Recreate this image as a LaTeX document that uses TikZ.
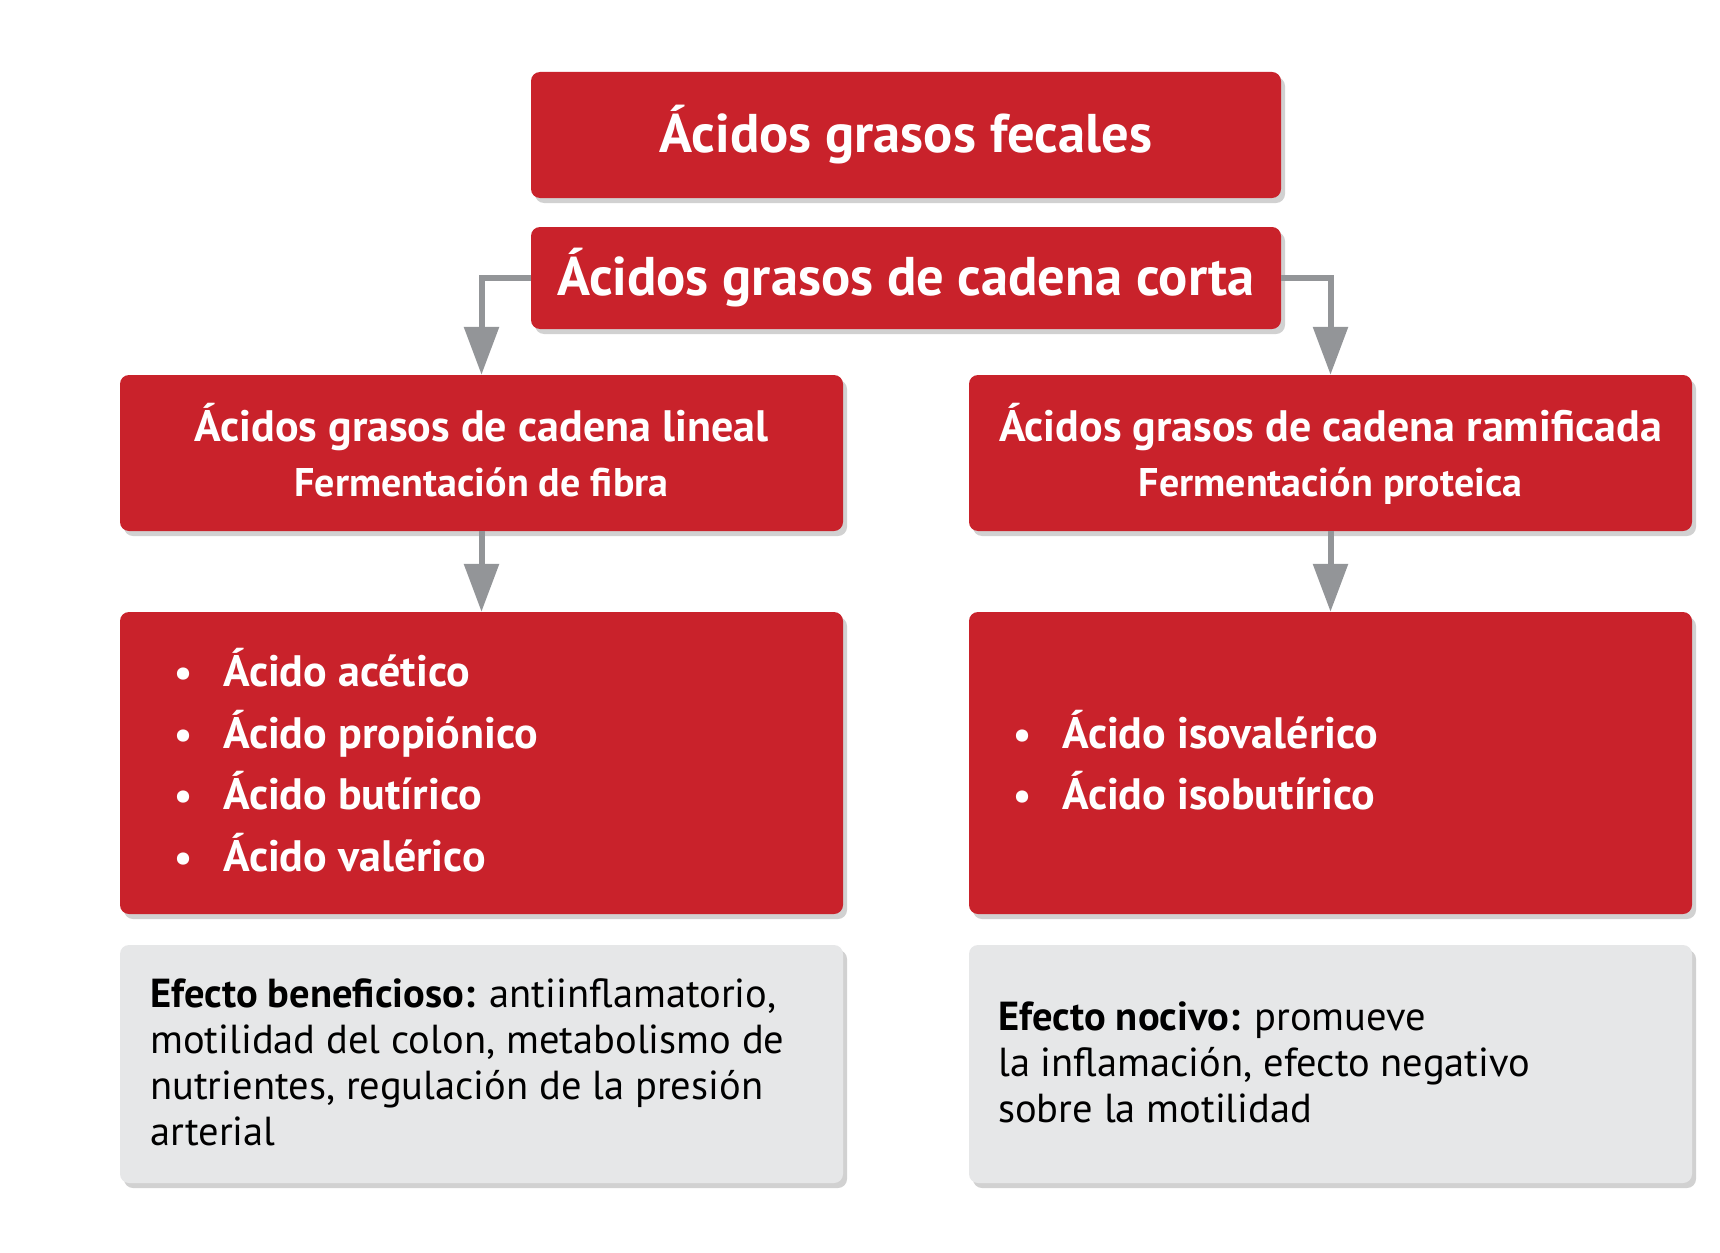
\documentclass[tikz,border=0pt]{standalone}
\usepackage{fontspec}
\setmainfont{PT Sans}
\usetikzlibrary{arrows.meta,shadows}
\definecolor{boxred}{HTML}{C9222B}
\definecolor{boxgray}{HTML}{E6E7E8}
\definecolor{arrowgray}{HTML}{939598}
\tikzset{
  card/.style={rectangle, rounded corners=9pt, inner sep=0pt,
    drop shadow={shadow xshift=4pt, shadow yshift=-5pt, fill=black, opacity=0.18}},
  redcard/.style={card, fill=boxred},
  graycard/.style={card, fill=boxgray},
  conn/.style={draw=arrowgray, line width=6pt, -{Triangle[width=34pt,length=48pt]}},
  titletxt/.style={text=white, font=\bfseries\fontsize{54.5}{60}\selectfont, inner sep=0pt},
  headtxt/.style={text=white, font=\bfseries\fontsize{44}{50}\selectfont, inner sep=0pt, anchor=base},
  subtxt/.style={text=white, font=\bfseries\fontsize{40}{46}\selectfont, inner sep=0pt, anchor=base},
  bultxt/.style={text=white, font=\bfseries\fontsize{44}{50}\selectfont, inner sep=0pt, anchor=base west},
  dot/.style={text=white, font=\bfseries\fontsize{40}{46}\selectfont, inner sep=0pt, anchor=base},
  bodytxt/.style={text=black, font=\fontsize{40.5}{46}\selectfont, inner sep=0pt, anchor=base west},
}
\begin{document}
\begin{tikzpicture}[x=1pt,y=-1pt]
\useasboundingbox (0,0) rectangle (1720,1252);
% boxes
\node[redcard, minimum width=750pt, minimum height=126pt] (fec) at (906,135) {};
\node[redcard, minimum width=750pt, minimum height=102pt] (corta) at (906,278) {};
\node[redcard, minimum width=723pt, minimum height=156pt] (lin) at (481.5,453) {};
\node[redcard, minimum width=723pt, minimum height=156pt] (ram) at (1330.5,453) {};
\node[redcard, minimum width=723pt, minimum height=302pt] (linlist) at (481.5,763) {};
\node[redcard, minimum width=723pt, minimum height=302pt] (ramlist) at (1330.5,763) {};
\node[graycard, minimum width=723pt, minimum height=238pt] (benef) at (481.5,1064) {};
\node[graycard, minimum width=723pt, minimum height=238pt] (nociv) at (1330.5,1064) {};
% connectors
\draw[conn] (corta.west) -| (lin.north);
\draw[conn] (corta.east) -| (ram.north);
\draw[conn] (lin.south) -- (linlist.north);
\draw[conn] (ram.south) -- (ramlist.north);
% texts
\node[titletxt] (t1) at (fec.center) {Ácidos grasos fecales};
\node[titletxt] (t2) at (corta.center) {Ácidos grasos de cadena corta};
\node[headtxt] (h1) at (481.5,441) {Ácidos grasos de cadena lineal};
\node[subtxt] (s1) at (481.5,496) {Fermentación de fibra};
\node[headtxt] (h2) at (1330.5,441) {Ácidos grasos de cadena ramificada};
\node[subtxt] (s2) at (1330.5,496) {Fermentación proteica};
% left list
\node[dot] (d1) at (184,686) {•};
\node[bultxt] (b1) at (223,686) {Ácido acético};
\node[dot] (d2) at (184,748) {•};
\node[bultxt] (b2) at (223,748) {Ácido propiónico};
\node[dot] (d3) at (184,809) {•};
\node[bultxt] (b3) at (223,809) {Ácido butírico};
\node[dot] (d4) at (184,871) {•};
\node[bultxt] (b4) at (223,871) {Ácido valérico};
% right list
\node[dot] (d5) at (1023,748) {•};
\node[bultxt] (b5) at (1062,748) {Ácido isovalérico};
\node[dot] (d6) at (1023,809) {•};
\node[bultxt] (b6) at (1062,809) {Ácido isobutírico};
% gray texts
\node[bodytxt] (g1) at (150,1007) {\textbf{Efecto beneficioso:} antiinflamatorio,};
\node[bodytxt] (g2) at (150,1053) {motilidad del colon, metabolismo de};
\node[bodytxt] (g3) at (150,1099) {nutrientes, regulación de la presión};
\node[bodytxt] (g4) at (150,1145) {arterial};
\node[bodytxt] (n1) at (998,1030) {\textbf{Efecto nocivo:} promueve};
\node[bodytxt] (n2) at (998,1076) {la inflamación, efecto negativo};
\node[bodytxt] (n3) at (998,1122) {sobre la motilidad};
\end{tikzpicture}
\end{document}
